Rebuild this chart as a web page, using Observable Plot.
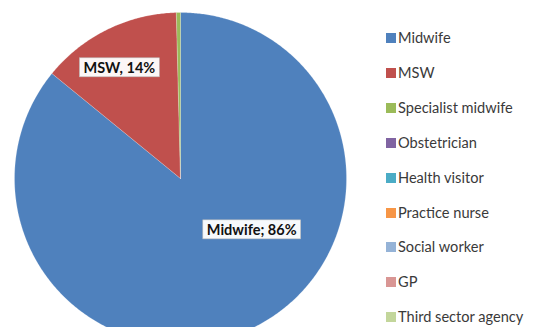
<!DOCTYPE html>
<html>
<head>
<meta charset="utf-8">
<script src="https://cdn.jsdelivr.net/npm/d3@7"></script>
<script src="https://cdn.jsdelivr.net/npm/@observablehq/plot@0.6"></script>
<style>
  html, body { margin: 0; padding: 0; background: #fff; overflow: hidden; }
  #wrap { position: relative; width: 534px; height: 327px; overflow: hidden; }
  #legend { position: absolute; left: 386px; top: 0; font-family: Lato, "Liberation Sans", sans-serif; font-size: 14.6px; color: #3a3a3a; }
  .item { position: absolute; left: 0; white-space: nowrap; display: flex; align-items: center; height: 16px; line-height: 16px; }
  .sw { width: 10px; height: 10px; margin-right: 2px; box-sizing: border-box; }
</style>
</head>
<body>
<div id="wrap"><div id="chart"></div><div id="legend"></div></div>
<script>
// ---- data ----
const categories = ["Midwife", "MSW", "Specialist midwife", "Obstetrician", "Health visitor", "Practice nurse", "Social worker", "GP", "Third sector agency"];
const shares = [85.9, 13.7, 0.4, 0, 0, 0, 0, 0, 0];
const colors = ["#4F81BD", "#C0504D", "#9BBB59", "#8064A2", "#4BACC6", "#F79646", "#95B3D7", "#D99694", "#C3D69B"];
const labelTexts = ["Midwife; 86%", "MSW, 14%"];

// ---- layout ----
const W = 534, H = 327;
const cx = 180, cy = 178, R = 166;
const labelPlace = [{angle: 126, frac: 0.53}, {angle: 331, frac: 0.76}];

const rows = categories.map((name, i) => ({name, value: shares[i]}));
const arcs = d3.pie().sort(null).value(d => d.value)(rows).filter(a => a.data.value > 0);

const pts = [];
for (const a of arcs) {
  pts.push({name: a.data.name, x: cx, y: cy});
  const n = Math.max(2, Math.ceil((a.endAngle - a.startAngle) / (Math.PI / 360)));
  for (let k = 0; k <= n; k++) {
    const t = a.startAngle + (a.endAngle - a.startAngle) * k / n;
    pts.push({name: a.data.name, x: cx + R * Math.sin(t), y: cy - R * Math.cos(t)});
  }
  pts.push({name: a.data.name, x: cx, y: cy});
}

const labels = labelTexts.map((text, i) => {
  const p = labelPlace[i];
  const t = p.angle * Math.PI / 180;
  return {text, x: cx + R * p.frac * Math.sin(t), y: cy - R * p.frac * Math.cos(t)};
});

const plot = Plot.plot({
  width: W, height: H,
  margin: 0,
  x: {domain: [0, W], axis: null},
  y: {domain: [0, H], reverse: true, axis: null},
  color: {domain: categories, range: colors},
  style: {background: "#fff"},
  marks: [
    Plot.line(pts, {x: "x", y: "y", z: "name", fill: "name", stroke: "#ffffff", strokeOpacity: 0.4, strokeWidth: 0.5, curve: "linear"}),
    Plot.text(labels, {x: "x", y: "y", text: "text", fontWeight: "bold", fontSize: 14.5, fill: "#111", fontFamily: "Lato, 'Liberation Sans', sans-serif", className: "slice-label"})
  ]
});
document.getElementById("chart").appendChild(plot);

// white boxes behind slice labels
plot.querySelectorAll(".slice-label text").forEach(t => {
  const b = t.getBBox();
  const r = document.createElementNS("http://www.w3.org/2000/svg", "rect");
  r.setAttribute("x", b.x - 4); r.setAttribute("y", b.y - 1);
  r.setAttribute("width", b.width + 8); r.setAttribute("height", b.height + 2);
  r.setAttribute("fill", "#fff"); r.setAttribute("fill-opacity", 0.95);
  r.setAttribute("stroke", "#bbb"); r.setAttribute("stroke-width", 0.6);
  const tr = t.getAttribute("transform");
  if (tr) r.setAttribute("transform", tr);
  t.parentNode.insertBefore(r, t);
});

// legend
const leg = document.getElementById("legend");
categories.forEach((name, i) => {
  const it = document.createElement("div");
  it.className = "item";
  it.style.top = (30 + i * 34.9) + "px";
  const sw = document.createElement("span");
  sw.className = "sw";
  sw.style.background = colors[i];
  const tx = document.createElement("span");
  tx.textContent = name;
  it.appendChild(sw); it.appendChild(tx);
  leg.appendChild(it);
});
</script>
</body>
</html>
